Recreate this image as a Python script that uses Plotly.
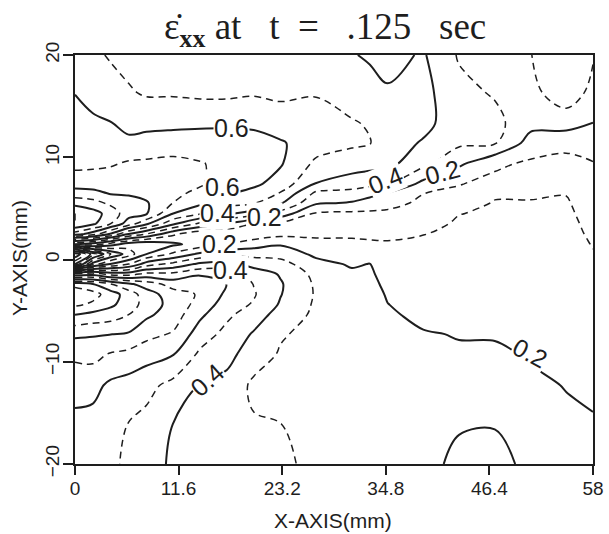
import numpy as np
import plotly.graph_objects as go

# grid positions (mm)
x_mm = [0, 2, 4, 6, 8, 11, 14, 17, 20, 23, 27, 31, 33, 35, 39, 43, 47, 51, 55, 58]
y_mm = [-20, -16.2, -12.3, -9.3, -7.3, -5.4, -4.4, -3.4, -2.4, -1.4, -0.45, 0.53, 1.5, 2.5,
        3.5, 4.5, 5.5, 6.5, 7.4, 9.4, 11.4, 13.3, 16.3, 20]

# strain-rate values, one list per x column (bottom -> top)
col_x0 = [0.52, 0.57, 0.64, 0.72, 0.82, 1.0, 1.12, 1.2, 1.05, 0.51, -0.6, -0.9, 0.2, 0.85, 1.1, 1.1, 0.97, 0.84, 0.76, 0.67, 0.65, 0.63, 0.598, 0.55]
col_x2 = [0.54, 0.565, 0.63, 0.73, 0.81, 0.97, 1.08, 1.14, 1.0, 0.55, -0.15, -0.55, 0.15, 0.75, 1.02, 1.04, 0.94, 0.83, 0.75, 0.68, 0.64, 0.62, 0.56, 0.52]
col_x4 = [0.52, 0.55, 0.58, 0.69, 0.802, 0.95, 1.02, 1.05, 0.9, 0.45, 0.01, -0.3, 0.05, 0.59, 0.9, 0.96, 0.88, 0.79, 0.75, 0.69, 0.64, 0.605, 0.54, 0.49]
col_x6 = [0.48, 0.495, 0.56, 0.67, 0.79, 0.9, 0.95, 0.95, 0.82, 0.45, 0.1, -0.15, -0.05, 0.4, 0.75, 0.84, 0.83, 0.79, 0.75, 0.71, 0.63, 0.56, 0.51, 0.47]
col_x8 = [0.44, 0.47, 0.53, 0.64, 0.73, 0.82, 0.86, 0.85, 0.75, 0.52, 0.25, 0.0, -0.08, 0.3, 0.62, 0.81, 0.81, 0.77, 0.74, 0.715, 0.64, 0.57, 0.49, 0.46]
col_x11 = [0.385, 0.397, 0.47, 0.602, 0.69, 0.75, 0.76, 0.74, 0.66, 0.52, 0.33, 0.12, -0.02, 0.12, 0.42, 0.6, 0.698, 0.72, 0.73, 0.72, 0.66, 0.57, 0.49, 0.45]
col_x14 = [0.365, 0.38, 0.395, 0.48, 0.55, 0.62, 0.665, 0.69, 0.69, 0.58, 0.42, 0.22, 0.04, 0.03, 0.28, 0.51, 0.62, 0.68, 0.71, 0.705, 0.655, 0.58, 0.48, 0.45]
col_x17 = [0.34, 0.31, 0.37, 0.43, 0.47, 0.52, 0.55, 0.58, 0.598, 0.56, 0.44, 0.28, 0.1, 0.03, 0.2, 0.42, 0.54, 0.61, 0.65, 0.68, 0.66, 0.58, 0.48, 0.44]
col_x20 = [0.33, 0.31, 0.28, 0.35, 0.39, 0.45, 0.49, 0.51, 0.497, 0.46, 0.36, 0.27, 0.15, 0.04, 0.1, 0.35, 0.505, 0.57, 0.62, 0.66, 0.64, 0.58, 0.49, 0.44]
col_x23 = [0.32, 0.302, 0.27, 0.29, 0.31, 0.36, 0.39, 0.405, 0.41, 0.39, 0.34, 0.26, 0.19, 0.07, 0.08, 0.26, 0.41, 0.495, 0.56, 0.61, 0.61, 0.55, 0.48, 0.43]
col_x27 = [0.275, 0.265, 0.255, 0.26, 0.27, 0.28, 0.285, 0.29, 0.285, 0.27, 0.23, 0.18, 0.13, 0.08, 0.07, 0.09, 0.21, 0.28, 0.395, 0.48, 0.55, 0.56, 0.49, 0.43]
col_x31 = [0.26, 0.25, 0.24, 0.24, 0.245, 0.245, 0.24, 0.235, 0.23, 0.215, 0.19, 0.16, 0.12, 0.085, 0.07, 0.08, 0.19, 0.26, 0.36, 0.44, 0.52, 0.51, 0.45, 0.405]
col_x33 = [0.255, 0.245, 0.24, 0.235, 0.232, 0.228, 0.225, 0.222, 0.218, 0.21, 0.202, 0.17, 0.115, 0.08, 0.066, 0.08, 0.16, 0.23, 0.33, 0.44, 0.505, 0.49, 0.43, 0.39]
col_x35 = [0.25, 0.24, 0.235, 0.225, 0.215, 0.206, 0.201, 0.195, 0.185, 0.175, 0.16, 0.14, 0.11, 0.08, 0.065, 0.08, 0.13, 0.198, 0.31, 0.43, 0.45, 0.45, 0.41, 0.37]
col_x39 = [0.24, 0.23, 0.22, 0.21, 0.203, 0.19, 0.18, 0.17, 0.16, 0.15, 0.14, 0.13, 0.115, 0.098, 0.075, 0.065, 0.08, 0.102, 0.17, 0.33, 0.39, 0.43, 0.43, 0.41]
col_x43 = [0.17, 0.21, 0.215, 0.205, 0.198, 0.18, 0.17, 0.16, 0.15, 0.14, 0.135, 0.13, 0.125, 0.115, 0.11, 0.098, 0.07, 0.08, 0.105, 0.22, 0.32, 0.34, 0.33, 0.29]
col_x47 = [0.16, 0.205, 0.22, 0.21, 0.195, 0.175, 0.165, 0.155, 0.148, 0.14, 0.135, 0.13, 0.125, 0.12, 0.115, 0.11, 0.105, 0.09, 0.07, 0.12, 0.31, 0.33, 0.29, 0.27]
col_x51 = [0.23, 0.215, 0.21, 0.195, 0.18, 0.165, 0.158, 0.15, 0.145, 0.14, 0.135, 0.13, 0.127, 0.123, 0.12, 0.115, 0.105, 0.09, 0.07, 0.085, 0.16, 0.23, 0.27, 0.298]
col_x55 = [0.22, 0.21, 0.198, 0.185, 0.17, 0.16, 0.155, 0.15, 0.145, 0.14, 0.135, 0.13, 0.125, 0.12, 0.115, 0.11, 0.105, 0.098, 0.09, 0.07, 0.13, 0.24, 0.36, 0.35]
col_x58 = [0.23, 0.205, 0.19, 0.18, 0.17, 0.16, 0.15, 0.14, 0.13, 0.12, 0.11, 0.103, 0.097, 0.09, 0.085, 0.08, 0.075, 0.075, 0.08, 0.095, 0.15, 0.198, 0.27, 0.31]

columns = [col_x0, col_x2, col_x4, col_x6, col_x8, col_x11, col_x14, col_x17, col_x20, col_x23,
           col_x27, col_x31, col_x33, col_x35, col_x39, col_x43, col_x47, col_x51, col_x55, col_x58]

# tick labels
x_ticks = [0, 11.6, 23.2, 34.8, 46.4, 58]
x_tick_text = ["0", "11.6", "23.2", "34.8", "46.4", "58"]
y_ticks = [-20, -10, 0, 10, 20]

# contour labels
label_text = ["0.6", "0.6", "0.4", "0.2", "0.2", "0.4", "0.4", "0.4", "0.2", "0.2"]
label_x = [17.5, 16.5, 15.9, 21.2, 16.2, 17.4, 14.8, 34.8, 41.2, 51.0]
label_y = [12.9, 7.1, 4.5, 4.2, 1.5, -1.0, -11.8, 7.8, 8.6, -9.1]
label_angle = [0, 0, 0, 0, 0, 0, -42, -22, -15, 28]

z = np.array(columns).T
INK = "#1e1e1e"
SANS = "Liberation Sans"

fig = go.Figure()
fig.add_trace(go.Contour(
    x=x_mm, y=y_mm, z=z, autocontour=False,
    contours=dict(start=-1.9, end=1.9, size=0.2, coloring="none"),
    line=dict(color=INK, width=1.5, dash="7px,5px", smoothing=1.0),
    showscale=False, hoverinfo="skip"))
fig.add_trace(go.Contour(
    x=x_mm, y=y_mm, z=z, autocontour=False,
    contours=dict(start=-2.0, end=2.0, size=0.2, coloring="none"),
    line=dict(color=INK, width=2, smoothing=1.0),
    showscale=False, hoverinfo="skip"))

for t, lx, ly, la in zip(label_text, label_x, label_y, label_angle):
    fig.add_annotation(x=lx, y=ly, text=t, showarrow=False, textangle=la,
                       font=dict(family=SANS, size=25, color=INK),
                       bgcolor="white", borderpad=0)

NB = "\u00a0"
title_text = ("ε̇<sub><b>xx</b></sub>" + NB + "at" + NB * 3 + "t" + NB * 2 + "=" + NB * 3
              + ".125" + NB * 3 + "sec")
fig.add_annotation(text=title_text, xref="paper", yref="paper", x=(324.5 - 75) / 518,
                   y=1 + (55 - 29) / 409, xanchor="center", yanchor="middle", showarrow=False,
                   font=dict(family="Liberation Serif", size=37, color=INK))
fig.add_annotation(text="X-AXIS(mm)", xref="paper", yref="paper", x=(333 - 75) / 518,
                   y=-(520 - 464) / 409, xanchor="center", yanchor="middle", showarrow=False,
                   font=dict(family=SANS, size=21, color=INK))
fig.add_annotation(text="Y-AXIS(mm)", xref="paper", yref="paper", x=-(75 - 19) / 518,
                   y=(464 - 258) / 409, xanchor="center", yanchor="middle", showarrow=False,
                   textangle=-90, font=dict(family=SANS, size=21, color=INK))

fig.update_layout(
    width=609, height=534,
    margin=dict(l=75, r=16, t=55, b=70, autoexpand=False),
    paper_bgcolor="white", plot_bgcolor="white",
    showlegend=False,
    font=dict(family=SANS, color=INK),
)
fig.update_xaxes(range=[0, 58], tickvals=x_ticks, ticktext=x_tick_text, automargin=False,
                 showline=True, mirror=True, linewidth=2, linecolor=INK,
                 ticks="outside", ticklen=9, tickwidth=2, tickcolor=INK,
                 showgrid=False, zeroline=False, ticklabelstandoff=-3,
                 tickfont=dict(size=19, family=SANS, color=INK))
fig.update_yaxes(range=[-20, 20], tickvals=y_ticks, automargin=False,
                 showline=True, mirror=True, linewidth=2, linecolor=INK,
                 ticks="outside", ticklen=10, tickwidth=2, tickcolor=INK,
                 showgrid=False, zeroline=False, tickangle=-90, ticklabelstandoff=-4,
                 tickfont=dict(size=19, family=SANS, color=INK))

fig.write_html("out.html", config={"displayModeBar": False},
               post_script="document.body.style.margin='0px';document.body.style.overflow='hidden';")
